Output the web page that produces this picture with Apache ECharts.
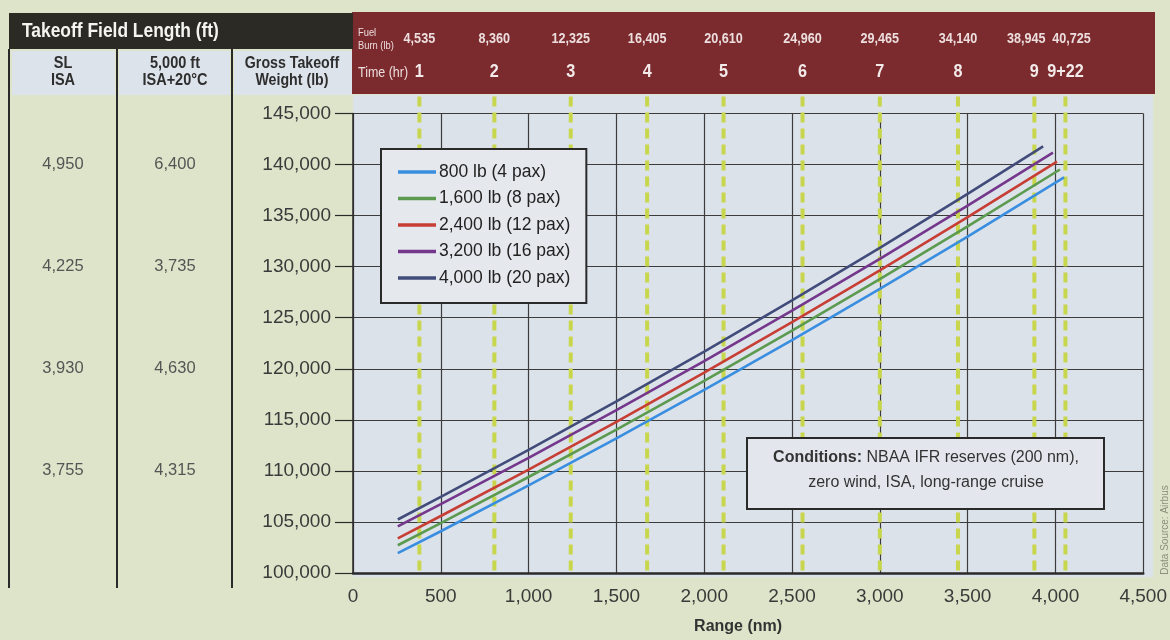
<!DOCTYPE html>
<html><head><meta charset="utf-8">
<script src="https://cdn.jsdelivr.net/npm/echarts@6/dist/echarts.min.js"></script>
<style>html,body{margin:0;padding:0;background:#dee4c9;}#c{width:1170px;height:640px;}</style>
</head><body><div id="c"></div>
<script>
// ---- data ----
const seriesNames = ['800 lb (4 pax)', '1,600 lb (8 pax)', '2,400 lb (12 pax)', '3,200 lb (16 pax)', '4,000 lb (20 pax)'];
const rangePoints = [255, 500, 1000, 1500, 2000, 2500, 3000, 3500];
const endRange = [4049, 4026, 4009, 3986, 3930];
const w800  = [101940, 104090, 108575, 113190, 117940, 122810, 127820, 132950, 138740];
const w1600 = [102720, 104885, 109400, 114045, 118825, 123730, 128770, 133940, 139515];
const w2400 = [103400, 105580, 110125, 114805, 119620, 124560, 129635, 134845, 140290];
const w3200 = [104560, 106740, 111280, 115955, 120760, 125700, 130770, 135970, 141165];
const w4000 = [105240, 107450, 112060, 116810, 121690, 126700, 131850, 137130, 141780];

const hourRange = [378, 805, 1240, 1675, 2110, 2560, 3000, 3445, 3880, 4057];
const fuelBurn = ['4,535', '8,360', '12,325', '16,405', '20,610', '24,960', '29,465', '34,140', '38,945', '40,725'];
const timeHr = ['1', '2', '3', '4', '5', '6', '7', '8', '9', '9+22'];

const tableWeights = [140000, 130000, 120000, 110000];
const slIsa = ['4,950', '4,225', '3,930', '3,755'];
const alt5000 = ['6,400', '3,735', '4,630', '4,315'];

// ---- styles ----
const colors = ['#3a8ee0', '#5b9a4f', '#c73e35', '#74378c', '#424c7a'];
const SANS = "'Liberation Sans',Arial,sans-serif";
const allW = [w800, w1600, w2400, w3200, w4000];
const fmt = v => v.toLocaleString('en-US');

// condensed-looking text: regular font squeezed horizontally
function ctext(text, x, y, o) {
  o = o || {};
  return {
    type: 'text', z: o.z || 5, x: x, y: y, scaleX: o.sx || 0.86,
    style: {
      text: text, x: 0, y: 0,
      textAlign: o.align || 'center', textVerticalAlign: 'middle',
      lineHeight: o.lh, fill: o.fill || '#2e2e2e',
      fontSize: o.size || 16, fontWeight: o.weight || 'bold', fontFamily: SANS
    }
  };
}

const chart = echarts.init(document.getElementById('c'));

const lineSeries = seriesNames.map((name, s) => ({
  name, type: 'line', symbol: 'none', z: 3,
  lineStyle: { color: colors[s], width: 2.6 },
  itemStyle: { color: colors[s] },
  data: rangePoints.concat([endRange[s]]).map((r, i) => [r, allW[s][i]])
}));

const markerSeries = {
  type: 'custom', z: 1, silent: true, clip: false,
  data: hourRange.map(r => [r, 145000]),
  renderItem: (params, api) => {
    const i = params.dataIndex;
    const n = hourRange.length;
    const x = api.coord([api.value(0), 145000])[0];
    const top = api.coord([0, 145000])[1];
    const bottom = api.coord([0, 100000])[1];
    const dxF = i === n - 2 ? -8 : (i === n - 1 ? 6 : 0);
    return { type: 'group', children: [
      { type: 'line', shape: { x1: x, y1: top - 17, x2: x, y2: bottom - 1 },
        style: { stroke: '#c8d64c', lineWidth: 4, lineDash: [10, 6] } },
      ctext(fuelBurn[i], x + dxF, top - 74.5, { fill: '#eddede', size: 14, sx: 0.9 }),
      ctext(timeHr[i], x, top - 41.5, { fill: '#f3eaea', size: 18, sx: 0.9 })
    ] };
  }
};

const tableSeries = {
  type: 'custom', z: 1, silent: true, clip: false,
  data: tableWeights.map(w => [0, w]),
  renderItem: (params, api) => {
    const i = params.dataIndex;
    const y = api.coord([0, api.value(1)])[1];
    return { type: 'group', children: [
      { type: 'text', style: { text: slIsa[i], x: 63, y: y, textAlign: 'center', textVerticalAlign: 'middle', fill: '#555', fontSize: 16.5, fontFamily: SANS } },
      { type: 'text', style: { text: alt5000[i], x: 175, y: y, textAlign: 'center', textVerticalAlign: 'middle', fill: '#555', fontSize: 16.5, fontFamily: SANS } }
    ] };
  }
};

const option = {
  backgroundColor: '#dee4c9',
  animation: false,
  grid: { left: 353, right: 21, top: 113.5, bottom: 63 },
  xAxis: {
    type: 'value', min: 0, max: 4500, interval: 500,
    name: 'Range (nm)', nameLocation: 'middle', nameGap: 46,
    nameTextStyle: { fontFamily: SANS, fontWeight: 'bold', fontSize: 16, color: '#333', padding: [0, 20, 0, 0] },
    axisLine: { show: true, onZero: false, lineStyle: { color: '#2a2a2a', width: 2.5 } },
    axisTick: { show: false },
    axisLabel: { formatter: fmt, fontFamily: SANS, fontSize: 19, color: '#3a3a3a', margin: 14 },
    splitLine: { show: true, lineStyle: { color: '#3c3c3c', width: 1.2 } }
  },
  yAxis: {
    type: 'value', min: 100000, max: 145000, interval: 5000,
    axisLine: { show: true, lineStyle: { color: '#2a2a2a', width: 1.5 } },
    axisTick: { show: true, inside: false, length: 18, lineStyle: { color: '#2a2a2a', width: 1.2 } },
    axisLabel: { formatter: fmt, fontFamily: SANS, fontSize: 19, color: '#3a3a3a', margin: 22 },
    splitLine: { show: true, lineStyle: { color: '#3c3c3c', width: 1.2 } }
  },
  legend: {
    orient: 'vertical', left: 381, top: 149,
    data: seriesNames.map(n => ({ name: n, icon: 'rect' })),
    backgroundColor: '#e5e9ee', borderColor: '#2a2a2a', borderWidth: 2,
    padding: [14, 16, 16, 17], itemGap: 8.5,
    itemWidth: 38, itemHeight: 3.5,
    textStyle: { fontFamily: SANS, fontSize: 17.5, color: '#222', padding: [0, 0, 0, -2], lineHeight: 17.5 }
  },
  graphic: [
    // plot background
    { type: 'rect', z: -10, shape: { x: 353, y: 95, width: 800, height: 482 }, style: { fill: '#dce2ea' } },
    // red header band
    { type: 'rect', z: -10, shape: { x: 352, y: 12, width: 803, height: 82 }, style: { fill: '#7b2a2d' } },
    // dark title bar
    { type: 'rect', z: -10, shape: { x: 9, y: 13, width: 344, height: 36 }, style: { fill: '#2b2a24' } },
    ctext('Takeoff Field Length (ft)', 22, 31, { align: 'left', fill: '#f4f4f0', size: 20, sx: 0.87 }),
    // column header boxes
    { type: 'rect', z: -10, shape: { x: 12, y: 51, width: 103, height: 44 }, style: { fill: '#dde3ea' } },
    { type: 'rect', z: -10, shape: { x: 119, y: 51, width: 111, height: 44 }, style: { fill: '#dde3ea' } },
    { type: 'rect', z: -10, shape: { x: 234, y: 51, width: 118, height: 44 }, style: { fill: '#dde3ea' } },
    ctext('SL\nISA', 63, 72, { lh: 16.5, size: 16.5, sx: 0.88 }),
    ctext('5,000 ft\nISA+20°C', 175, 72, { lh: 16.5, size: 16.5, sx: 0.88 }),
    ctext('Gross Takeoff\nWeight (lb)', 292, 72, { lh: 17, size: 16.5, sx: 0.86 }),
    // table vertical lines
    { type: 'line', z: 5, shape: { x1: 9, y1: 49, x2: 9, y2: 588 }, style: { stroke: '#2a2a2a', lineWidth: 2 } },
    { type: 'line', z: 5, shape: { x1: 117, y1: 49, x2: 117, y2: 588 }, style: { stroke: '#2a2a2a', lineWidth: 2 } },
    { type: 'line', z: 5, shape: { x1: 232, y1: 49, x2: 232, y2: 588 }, style: { stroke: '#2a2a2a', lineWidth: 2 } },
    // header captions in red band
    ctext('Fuel\nBurn (lb)', 358, 39, { align: 'left', lh: 13, fill: '#eddede', size: 11, weight: 'normal', sx: 0.85 }),
    ctext('Time (hr)', 358, 73, { align: 'left', fill: '#eddede', size: 14.5, weight: 'normal', sx: 0.86 }),
    // conditions box
    { type: 'rect', z: 10, shape: { x: 747, y: 438, width: 357, height: 71 }, style: { fill: '#e3e7ed', stroke: '#2a2a2a', lineWidth: 2 } },
    { type: 'text', z: 11, style: {
      text: '{b|Conditions:} NBAA IFR reserves (200 nm),\nzero wind, ISA, long-range cruise',
      x: 926, y: 470, textAlign: 'center', textVerticalAlign: 'middle', lineHeight: 25,
      fill: '#333', fontSize: 16, fontFamily: SANS,
      rich: { b: { fontWeight: 'bold', fontSize: 16, fontFamily: SANS, fill: '#333' } } } },
    // source
    { type: 'text', z: 5, rotation: Math.PI / 2, x: 1165, y: 530, style: { text: 'Data Source: Airbus', textAlign: 'center', textVerticalAlign: 'middle', fill: '#8a907c', fontSize: 10, fontFamily: SANS } }
  ],
  series: [markerSeries, tableSeries].concat(lineSeries)
};
chart.setOption(option);
</script>
</body></html>
